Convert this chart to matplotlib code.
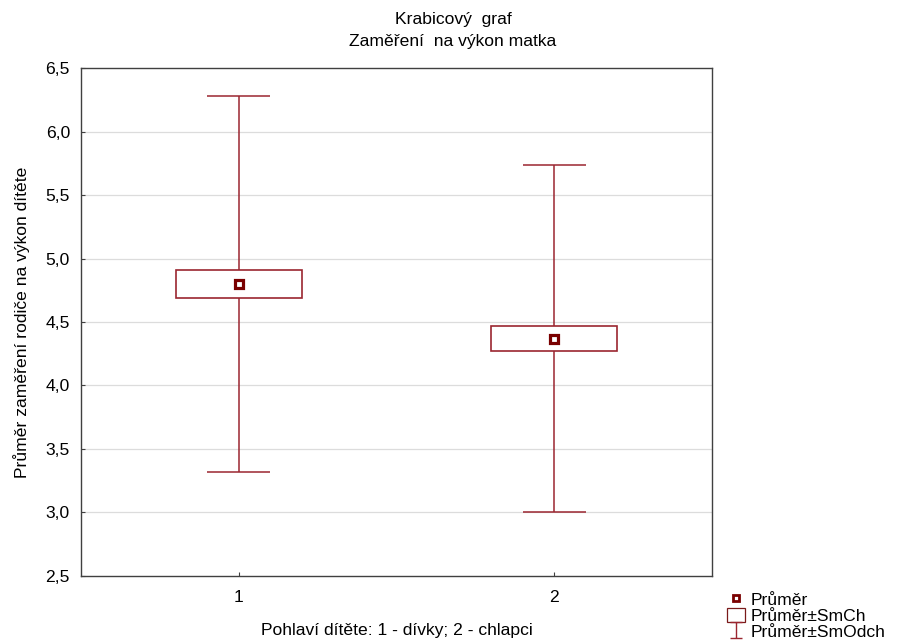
import matplotlib
matplotlib.use("Agg")
import matplotlib.pyplot as plt
from matplotlib.patches import Rectangle, Patch
from matplotlib.lines import Line2D
from matplotlib.path import Path

plt.rcParams['font.family'] = ['Liberation Sans', 'DejaVu Sans']

# data
groups = [1, 2]
means = [4.80, 4.37]
se = [0.11, 0.10]     # Průměr±SmCh
sd = [1.48, 1.37]     # Průměr±SmOdch

boxcol = '#9B2630'
fs = 12.6

fig = plt.figure(figsize=(8.97, 6.44), dpi=100)
ax = fig.add_axes([0.0903, 0.1056, 0.7035, 0.7888])

box_w = 0.4
cap_w = 0.2
for x, m, s, d in zip(groups, means, se, sd):
    # whisker
    ax.vlines(x, m - d, m + d, color=boxcol, lw=1.1, zorder=2)
    ax.hlines([m - d, m + d], x - cap_w / 2, x + cap_w / 2, color=boxcol, lw=1.1, zorder=2)
    # box
    ax.add_patch(Rectangle((x - box_w / 2, m - s), box_w, 2 * s,
                           facecolor='white', edgecolor=boxcol, lw=1.2, zorder=3))
ax.plot(groups, means, ls='none', marker='s', ms=6, mfc='white', mec='#7A0000', mew=2.3, zorder=4)

ax.set_xlim(0.5, 2.5)
ax.set_ylim(2.5, 6.5)
ax.set_xticks(groups)
ax.set_xticklabels(['1', '2'])
yt = [2.5, 3.0, 3.5, 4.0, 4.5, 5.0, 5.5, 6.0, 6.5]
ax.set_yticks(yt)
ax.set_yticklabels([f'{v:.1f}'.replace('.', ',') for v in yt])
ax.tick_params(axis='both', direction='in', length=3, labelsize=fs, color='#404040')
ax.tick_params(axis='y', pad=8)
ax.tick_params(axis='x', pad=10)
for v in yt[1:-1]:
    ax.axhline(v, color='#DCDCDC', lw=0.9, zorder=0)
for sp in ax.spines.values():
    sp.set_color('#404040')
    sp.set_linewidth(1.0)

ax.set_xlabel('Pohlaví dítěte: 1 - dívky; 2 - chlapci', fontsize=fs, labelpad=13)
ax.set_ylabel('Průměr zaměření rodiče na výkon dítěte', fontsize=fs, labelpad=11)

fig.text(0.505, 0.969, 'Krabicový  graf', ha='center', va='center', fontsize=fs)
fig.text(0.505, 0.935, 'Zaměření  na výkon matka', ha='center', va='center', fontsize=fs)

# legend
ibar = Path([(-0.8, 1), (0.8, 1), (0, 1), (0, -1), (-0.8, -1), (0.8, -1)],
            [Path.MOVETO, Path.LINETO, Path.MOVETO, Path.LINETO, Path.MOVETO, Path.LINETO])
handles = [
    Line2D([], [], ls='none', marker='s', ms=5, mfc='white', mec='#7A0000', mew=2),
    Patch(facecolor='white', edgecolor='#7A1A1A', lw=0.9),
    Line2D([], [], ls='none', marker=ibar, ms=11, mec=boxcol, mew=1),
]
labels = ['Průměr', 'Průměr±SmCh', 'Průměr±SmOdch']
fig.legend(handles, labels, loc='lower left', bbox_to_anchor=(0.797, -0.013), frameon=False,
           fontsize=fs, handlelength=1.0, handleheight=0.9, handletextpad=0.35,
           labelspacing=0.0, borderpad=0.2)

fig.savefig('out.png', dpi=100)
